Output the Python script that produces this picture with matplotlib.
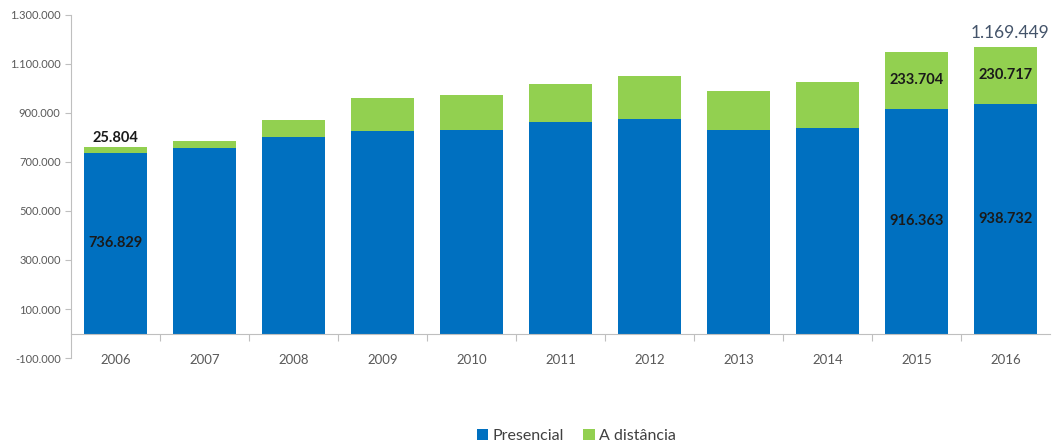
import numpy as np
import matplotlib.pyplot as plt
from matplotlib.ticker import FuncFormatter, FixedLocator

plt.rcParams['font.family'] = ['Lato', 'DejaVu Sans']

# Concluintes por modalidade de ensino
anos = ['2006', '2007', '2008', '2009', '2010', '2011', '2012', '2013', '2014', '2015', '2016']
presencial = [736829, 756799, 800318, 826928, 829286, 865161, 876091, 829938, 837304, 916363, 938732]
distancia = [25804, 29812, 70068, 132269, 144553, 151552, 174322, 161072, 189788, 233704, 230717]

azul = '#0070C0'
verde = '#92D050'
cinza = '#595959'


def milhar(v, pos=None):
    return f'{int(v):,}'.replace(',', '.')


fig = plt.figure(figsize=(10.52, 4.46), dpi=100)
ax = fig.add_axes([0.0675, 0.1973, 0.9305, 0.7691])

x = np.arange(len(anos))
pres = np.array(presencial)
dist = np.array(distancia)
total = pres + dist

b1 = ax.bar(x, pres, width=0.71, color=azul, label='Presencial')
b2 = ax.bar(x, dist, width=0.71, bottom=pres, color=verde, label='A distância')

ax.set_xlim(-0.5, len(anos) - 0.5)
ax.set_ylim(-100000, 1300000)
ax.set_yticks(np.arange(-100000, 1300001, 200000))
ax.yaxis.set_major_formatter(FuncFormatter(milhar))
ax.tick_params(axis='y', labelsize=8, colors='#BFBFBF', labelcolor=cinza, length=4, width=0.8)

# eixo x na linha do zero, marcas entre categorias
ax.spines['bottom'].set_position(('data', 0))
ax.spines['bottom'].set_color('#BFBFBF')
ax.spines['left'].set_color('#BFBFBF')
ax.spines['top'].set_visible(False)
ax.spines['right'].set_visible(False)
ax.set_xticks(x)
ax.set_xticklabels(anos)
ax.xaxis.set_minor_locator(FixedLocator(np.arange(0.5, len(anos) - 1, 1)))
ax.tick_params(axis='x', which='major', length=0, pad=15, labelsize=9.5, labelcolor=cinza)
ax.tick_params(axis='x', which='minor', length=5, width=0.8, color='#BFBFBF')

# rótulos de dados
rot = dict(ha='center', va='center', fontsize=10.5, fontweight='bold', color='#1a1a1a')
ax.text(x[0], pres[0] / 2, milhar(pres[0]), **rot)
ax.text(x[0], total[0] + 36000, milhar(dist[0]), **rot)
for i in (9, 10):
    ax.text(x[i], pres[i] / 2, milhar(pres[i]), **rot)
    ax.text(x[i], pres[i] + dist[i] / 2, milhar(dist[i]), **rot)
ax.text(x[10] + 0.05, total[10] + 58000, milhar(total[10]), ha='center', va='center',
        fontsize=12.5, color='#44546A')

fig.legend(handles=[b1, b2], loc='center', bbox_to_anchor=(0.548, 0.022), ncol=2,
           frameon=False, fontsize=11.5, handlelength=0.7, handleheight=0.7,
           handletextpad=0.3, columnspacing=1.2, labelcolor='#404040')

fig.savefig('out.png', dpi=100)
